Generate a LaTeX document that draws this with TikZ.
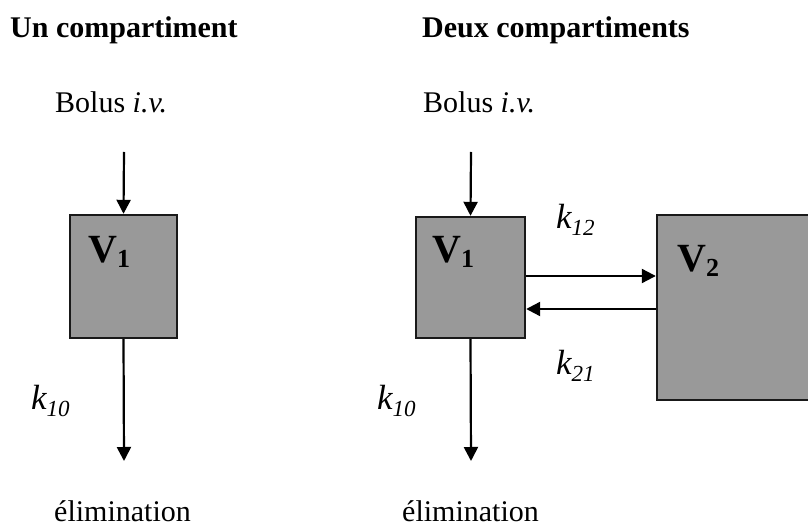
\documentclass[tikz,border=0pt]{standalone}
\usepackage{fontspec}
\setmainfont{Liberation Serif}
\usetikzlibrary{arrows.meta}
\tikzset{
  lbl/.style={inner sep=0pt, anchor=base west, font=\fontsize{30}{36}\selectfont},
  ttl/.style={lbl, font=\fontsize{30}{36}\selectfont\bfseries},
  comp/.style={draw=black!90, line width=2.4pt, fill=black!40, inner sep=0pt},
  vlbl/.style={inner sep=0pt, anchor=base west},
  klbl/.style={inner sep=0pt, anchor=base west, font=\fontsize{35}{38}\selectfont\itshape},
  arr/.style={line width=2.2pt, -{Triangle[length=14pt,width=14pt]}},
}
\newcommand{\Vsub}[1]{{\fontsize{40}{44}\selectfont\bfseries V\raisebox{-0.12em}{\fontsize{26}{28}\selectfont #1}}}
\newcommand{\ksub}[1]{k\raisebox{-0.2em}{\fontsize{23}{26}\selectfont #1}}
\begin{document}
\begin{tikzpicture}[x=1pt,y=-1pt]
\clip (0,0) rectangle (808,526);
\fill[white] (0,0) rectangle (808,526);
% titles
\node[ttl] (t1) at (10,38) {Un compartiment};
\node[ttl] (t2) at (422,38) {Deux compartiments};
\node[lbl] (b1) at (55,113) {Bolus \textit{i.v.}};
\node[lbl] (b2) at (423,113) {Bolus \textit{i.v.}};
% boxes
\node[comp, minimum width=107pt, minimum height=123pt] (v1a) at (123.5,276.5) {};
\node[comp, minimum width=109pt, minimum height=121pt] (v1b) at (470.5,277.5) {};
\node[comp, minimum width=162pt, minimum height=185pt] (v2) at (738,307.5) {};
\node[vlbl] (v1al) at (88,263) {\Vsub{1}};
\node[vlbl] (v1bl) at (432,263) {\Vsub{1}};
\node[vlbl] (v2l) at (677,272) {\Vsub{2}};
% arrow end points
\coordinate (s1) at (124,152);
\coordinate (s2) at (471,152);
\coordinate (e1) at (124,461);
\coordinate (e2) at (471,461);
\coordinate (ya) at (0,276);
\coordinate (yb) at (0,309);
\draw[arr] (s1) -- (v1a.north);
\draw[arr] (s2) -- (v1b.north);
\draw[arr] (v1a.south) -- (e1);
\draw[arr] (v1b.south) -- (e2);
\draw[arr] (v1b.east |- ya) -- (v2.west |- ya);
\draw[arr] (v2.west |- yb) -- (v1b.east |- yb);
% rate labels
\node[klbl] (k12) at (556,229) {\ksub{12}};
\node[klbl] (k21) at (556,374) {\ksub{21}};
\node[klbl] (k10a) at (31,409) {\ksub{10}};
\node[klbl] (k10b) at (377,409) {\ksub{10}};
% elimination
\node[lbl] (el1) at (54,521) {élimination};
\node[lbl] (el2) at (402,521) {élimination};
\end{tikzpicture}
\end{document}
